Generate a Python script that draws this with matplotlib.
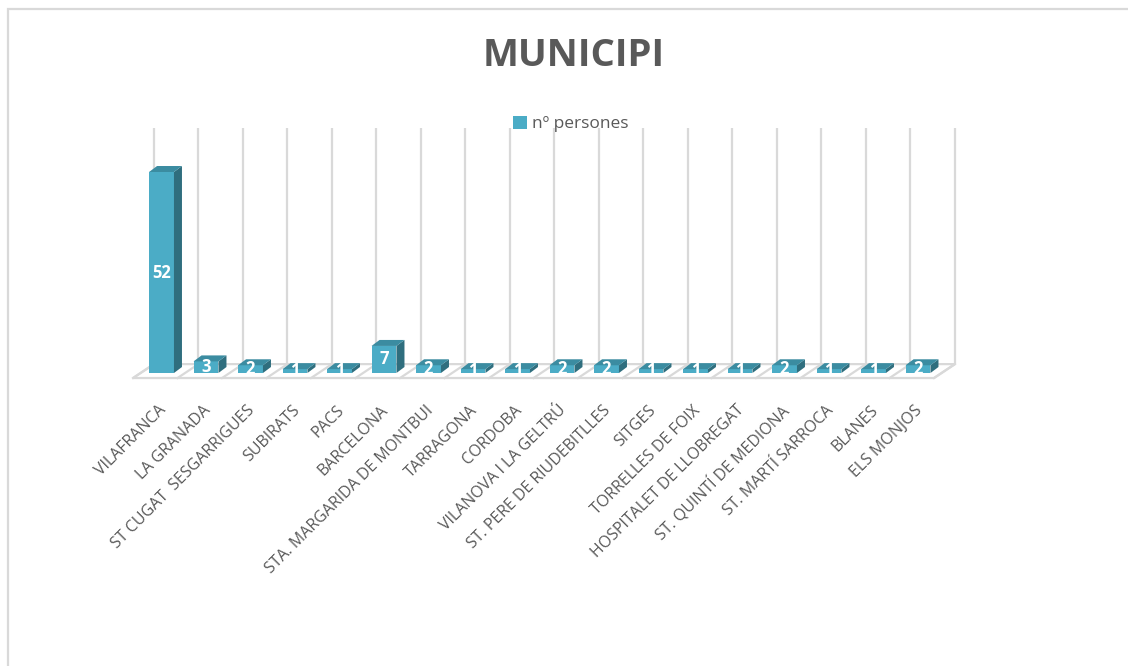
import matplotlib
matplotlib.use('Agg')
import matplotlib.pyplot as plt
from matplotlib.patches import Polygon, Rectangle

plt.rcParams['font.family'] = ['Open Sans', 'DejaVu Sans']

municipis = ['VILAFRANCA', 'LA GRANADA', 'ST CUGAT  SESGARRIGUES', 'SUBIRATS', 'PACS',
             'BARCELONA', 'STA. MARGARIDA DE MONTBUI', 'TARRAGONA', 'CORDOBA',
             'VILANOVA I LA GELTRÚ', 'ST. PERE DE RIUDEBITLLES', 'SITGES',
             'TORRELLES DE FOIX', 'HOSPITALET DE LLOBREGAT', 'ST. QUINTÍ DE MEDIONA',
             'ST. MARTÍ SARROCA', 'BLANES', 'ELS MONJOS']
persones = [52, 3, 2, 1, 1, 7, 2, 1, 1, 2, 2, 1, 1, 1, 2, 1, 1, 2]

FRONT = '#4BACC6'
SIDE = '#2F6E7E'
TOP = '#3B8CA1'
GRID = '#D9D9D9'
TXT = '#595959'

W, H = 1128, 666
fig = plt.figure(figsize=(W / 100, H / 100), dpi=100)

# pixel geometry of the plot box
px_cat = 44.5
px_val = 201 / 52
x0_px = 161.5          # centre of first bar
y0_px = 373            # base of bars
xlo, xhi = -1, 18.5
ylo, yhi = -3, 64
left = (x0_px + xlo * px_cat) / W
width = (xhi - xlo) * px_cat / W
bottom = (H - (y0_px - ylo * px_val)) / H
height = (yhi - ylo) * px_val / H
ax = fig.add_axes([left, bottom, width, height])
ax.set_xlim(xlo, xhi)
ax.set_ylim(ylo, yhi)
ax.axis('off')

n = len(persones)
bw = 0.28       # half width of bar front
ddx, ddy = 0.18, 1.55   # bar depth
fdx0, fdx1 = -0.64, -0.17   # floor front / back x offset
fy0, fy1 = -1.3, 2.3        # floor front / back y

# back wall verticals
for k in range(n + 1):
    ax.plot([fdx1 + k, fdx1 + k], [fy1, 63.3], color=GRID, lw=1.6, zorder=1,
            solid_capstyle='butt')
# floor
floor = Polygon([(fdx0, fy0), (fdx0 + n, fy0), (fdx1 + n, fy1), (fdx1, fy1)],
                closed=True, facecolor='white', edgecolor=GRID, lw=1.6, zorder=1.5)
ax.add_patch(floor)
for k in range(n + 1):
    ax.plot([fdx0 + k, fdx1 + k], [fy0, fy1], color=GRID, lw=1.6, zorder=1.6)

xs = list(range(n))
bars = ax.bar(xs, persones, width=2 * bw, color=FRONT, zorder=3)
for i, v in zip(xs, persones):
    side = Polygon([(i + bw, 0), (i + bw + ddx, ddy), (i + bw + ddx, v + ddy), (i + bw, v)],
                   closed=True, facecolor=SIDE, edgecolor='none', zorder=3)
    top = Polygon([(i - bw, v), (i + bw, v), (i + bw + ddx, v + ddy), (i - bw + ddx, v + ddy)],
                  closed=True, facecolor=TOP, edgecolor='none', zorder=3)
    ax.add_patch(side)
    ax.add_patch(top)
    ax.text(i, v / 2, str(v), color='white', fontsize=12, fontweight='bold',
            ha='center', va='center', zorder=4)

for i, name in zip(xs, municipis):
    ax.text(i - 0.08, -7.6, name, rotation=45, rotation_mode='anchor', ha='right', va='top',
            fontsize=11.5, color=TXT, clip_on=False)

fig.text(573.5 / W, 1 - 56 / H, 'MUNICIPI', fontsize=27.5, fontweight='bold', color=TXT,
         ha='center', va='center')
fig.legend(handles=[bars], labels=['nº persones'], loc='center',
           bbox_to_anchor=(571 / W, 1 - 124 / H), frameon=False, fontsize=12.5,
           handlelength=0.8, handleheight=0.8, handletextpad=0.3, labelcolor=TXT)

frame = Rectangle((8 / W, -0.1), 1.2, 1.1 - 9 / H, transform=fig.transFigure,
                  facecolor='none', edgecolor=GRID, lw=1.6)
fig.patches.append(frame)

fig.savefig('out.png', dpi=100)
